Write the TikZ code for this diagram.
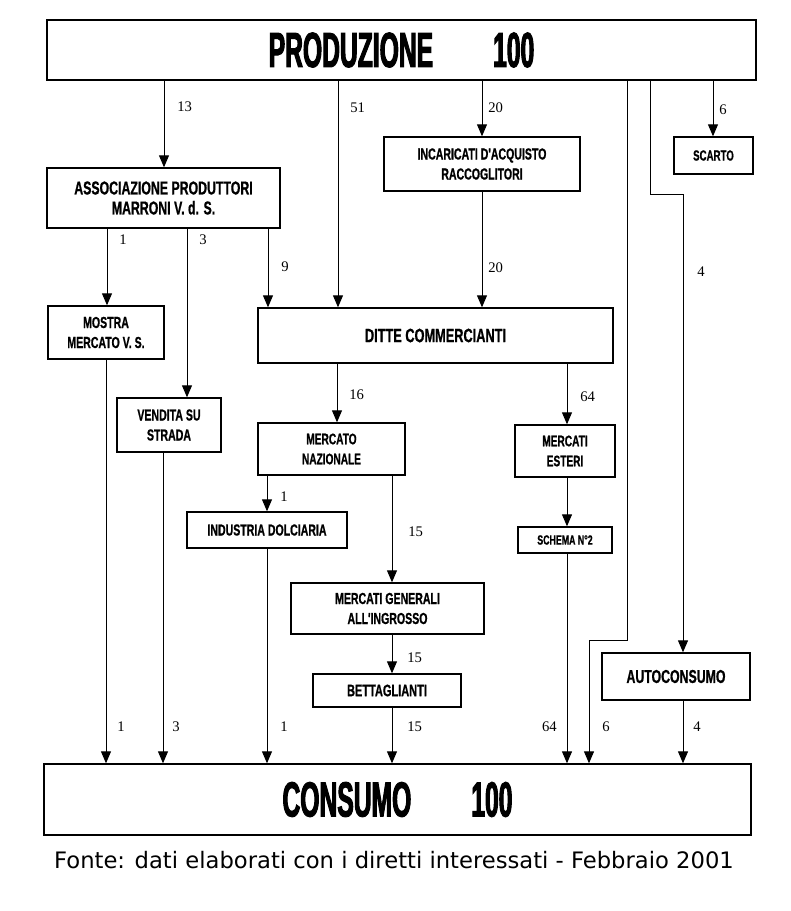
\documentclass[tikz,border=0pt]{standalone}
\usepackage{fontspec}
\setmainfont{Liberation Serif}
\newfontfamily\boxfont[FakeStretch=0.66,FakeBold=0.8]{Liberation Sans}
\newfontfamily\headfont[FakeStretch=0.5,FakeBold=2]{Liberation Sans}
\newfontfamily\capfont{DejaVu Sans}
\usetikzlibrary{arrows.meta}

\tikzset{
  box/.style={draw, line width=1pt, inner sep=0pt, align=center,
    font=\boxfont\bfseries\fontsize{12}{15}\selectfont},
  size/.style 2 args={minimum width=#1*0.75pt, minimum height=#2*0.75pt},
  head/.style={font=\headfont\bfseries\fontsize{37}{40}\selectfont},
  flow/.style={line width=0.75pt, -{Triangle[length=9pt,width=7.5pt]}},
  qty/.style={inner sep=0pt, anchor=west, font=\fontsize{11}{13}\selectfont},
}

\begin{document}
\begin{tikzpicture}[x=0.75pt,y=0.75pt,yscale=-1,xscale=1]
\useasboundingbox (0,0) rectangle (791,911);

%Shape: Rectangle
\node[box, head, size={709}{60}] (prod) at (401.5,50) {PRODUZIONE\hspace{45pt}100};
\node[box, size={233}{60}, font=\boxfont\bfseries\fontsize{14}{15}\selectfont] (assoc) at (163.5,198) {ASSOCIAZIONE PRODUTTORI\\MARRONI V. d. S.};
\node[box, size={196}{54}] (incar) at (482,164) {INCARICATI D'ACQUISTO\\RACCOGLITORI};
\node[box, size={79}{37}, font=\boxfont\bfseries\fontsize{11}{13}\selectfont] (scarto) at (713.5,155.5) {SCARTO};
\node[box, size={116}{53}] (mostra) at (106,332.5) {MOSTRA\\MERCATO V. S.};
\node[box, size={355}{55}, font=\boxfont\bfseries\fontsize{14.5}{16}\selectfont] (ditte) at (435.5,335.5) {DITTE COMMERCIANTI};
\node[box, size={104}{54}] (vendita) at (169,425) {VENDITA SU\\STRADA};
\node[box, size={147}{52}, font=\boxfont\bfseries\fontsize{11.5}{15}\selectfont] (naz) at (331.5,449) {MERCATO\\NAZIONALE};
\node[box, size={100}{52}, font=\boxfont\bfseries\fontsize{11.5}{15}\selectfont] (esteri) at (565,451) {MERCATI\\ESTERI};
\node[box, size={160}{36}] (dolc) at (267,530) {INDUSTRIA DOLCIARIA};
\node[box, size={94}{26}, font=\boxfont\bfseries\fontsize{10}{12}\selectfont] (schema) at (565,540) {SCHEMA N°2};
\node[box, size={193}{51}] (ingr) at (387.5,608.5) {MERCATI GENERALI\\ALL'INGROSSO};
\node[box, size={148}{33}, font=\boxfont\bfseries\fontsize{12.5}{15}\selectfont] (dett) at (387,690.5) {BETTAGLIANTI};
\node[box, size={148}{47}, font=\boxfont\bfseries\fontsize{14}{15}\selectfont] (auto) at (676,676.5) {AUTOCONSUMO};
\node[box, head, size={707}{71}] (cons) at (397.5,799.5) {CONSUMO\hspace{45pt}100};

%Columns and bends
\coordinate (x13) at (164,0);
\coordinate (x51) at (338,0);
\coordinate (x20) at (482,0);
\coordinate (x6) at (713,0);
\coordinate (x1) at (107,0);
\coordinate (x3) at (187,0);
\coordinate (x9) at (268,0);
\coordinate (x16) at (337,0);
\coordinate (x64) at (567,0);
\coordinate (x1b) at (267,0);
\coordinate (x15) at (392,0);
\coordinate (xm) at (106,0);
\coordinate (xv) at (163,0);
\coordinate (xa) at (683,0);
\coordinate (b6a) at (627,640);
\coordinate (b6b) at (589,640);
\coordinate (b4a) at (650,194);
\coordinate (b4b) at (683,194);

%Straight Lines
\draw[flow] (prod.south -| x13) -- (assoc.north -| x13);
\draw[flow] (prod.south -| x51) -- (ditte.north -| x51);
\draw[flow] (prod.south -| x20) -- (incar.north -| x20);
\draw[flow] (prod.south -| x6) -- (scarto.north -| x6);
\draw[flow] (prod.south -| b6a) -- (b6a) -- (b6b) -- (cons.north -| b6b);
\draw[flow] (prod.south -| b4a) -- (b4a) -- (b4b) -- (auto.north -| b4b);
\draw[flow] (assoc.south -| x1) -- (mostra.north -| x1);
\draw[flow] (assoc.south -| x3) -- (vendita.north -| x3);
\draw[flow] (assoc.south -| x9) -- (ditte.north -| x9);
\draw[flow] (incar.south -| x20) -- (ditte.north -| x20);
\draw[flow] (ditte.south -| x16) -- (naz.north -| x16);
\draw[flow] (ditte.south -| x64) -- (esteri.north -| x64);
\draw[flow] (naz.south -| x1b) -- (dolc.north -| x1b);
\draw[flow] (naz.south -| x15) -- (ingr.north -| x15);
\draw[flow] (esteri.south -| x64) -- (schema.north -| x64);
\draw[flow] (ingr.south -| x15) -- (dett.north -| x15);
\draw[flow] (mostra.south -| xm) -- (cons.north -| xm);
\draw[flow] (vendita.south -| xv) -- (cons.north -| xv);
\draw[flow] (dolc.south -| x1b) -- (cons.north -| x1b);
\draw[flow] (dett.south -| x15) -- (cons.north -| x15);
\draw[flow] (schema.south -| x64) -- (cons.north -| x64);
\draw[flow] (auto.south -| xa) -- (cons.north -| xa);

% Text Node
\node[qty] (q13) at (177,107) {13};
\node[qty] (q51) at (350,108) {51};
\node[qty] (q20a) at (488,108) {20};
\node[qty] (q6a) at (719,110) {6};
\node[qty] (q4a) at (697,272) {4};
\node[qty] (q1a) at (119,240) {1};
\node[qty] (q3a) at (199,240) {3};
\node[qty] (q9) at (281,267) {9};
\node[qty] (q20b) at (488,268) {20};
\node[qty] (q16) at (349,395) {16};
\node[qty] (q64a) at (580,397) {64};
\node[qty] (q1b) at (280,497) {1};
\node[qty] (q15a) at (408,532) {15};
\node[qty] (q15b) at (407,658) {15};
\node[qty] (q1c) at (117,727) {1};
\node[qty] (q3b) at (172,727) {3};
\node[qty] (q1d) at (280,727) {1};
\node[qty] (q15c) at (407,727) {15};
\node[qty, anchor=east] (q64b) at (557,727) {64};
\node[qty] (q6b) at (602,727) {6};
\node[qty] (q4b) at (693,727) {4};

% Text Node
\node[inner sep=0pt, anchor=base, font=\capfont\fontsize{17}{20}\selectfont] (fonte) at (394,868) {Fonte: dati elaborati con i diretti interessati - Febbraio 2001};

\end{tikzpicture}
\end{document}
